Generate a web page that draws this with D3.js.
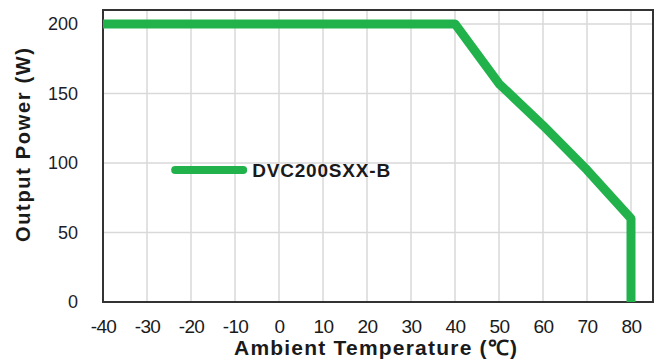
<!DOCTYPE html>
<html>
<head>
<meta charset="utf-8">
<script src="https://cdn.jsdelivr.net/npm/d3@7"></script>
<style>
  body { margin: 0; background: #fff; }
  svg { display: block; }
</style>
</head>
<body>
<div id="chart"></div>
<script>
// derating curve values
var seriesName = 'DVC200SXX-B'
var temps = [-40, 40, 50, 60, 70, 80, 80]
var power = [200, 200, 157, 127, 95, 60, 0]
var xTicks = [-40, -30, -20, -10, 0, 10, 20, 30, 40, 50, 60, 70, 80]
var yTicks = [0, 50, 100, 150, 200]

var svgWidth = 662
var svgHeight = 362

var margin = { top: 10, right: 9, bottom: 60, left: 103 }
var chartWidth = svgWidth - margin.left - margin.right
var chartHeight = svgHeight - margin.top - margin.bottom

var svg = d3.select('#chart')
  .append('svg')
  .attr('width', svgWidth)
  .attr('height', svgHeight)

var chartGroup = svg.append('g')
  .attr('transform', `translate(${margin.left}, ${margin.top})`)

var xScale = d3.scaleLinear().domain([-40, 85]).range([0, chartWidth])
var yScale = d3.scaleLinear().domain([0, 210]).range([chartHeight, 0])

// grid lines
chartGroup.append('g')
  .selectAll('line')
  .data(xTicks.filter(d => d > -40))
  .enter()
  .append('line')
  .attr('x1', d => xScale(d))
  .attr('x2', d => xScale(d))
  .attr('y1', 0)
  .attr('y2', chartHeight)
  .attr('stroke', '#d9d9d9')
  .attr('stroke-width', 1.5)

chartGroup.append('g')
  .selectAll('line')
  .data(yTicks.filter(d => d > 0))
  .enter()
  .append('line')
  .attr('x1', 0)
  .attr('x2', chartWidth)
  .attr('y1', d => yScale(d))
  .attr('y2', d => yScale(d))
  .attr('stroke', '#d9d9d9')
  .attr('stroke-width', 1.5)

// x axis labels (plain hyphen for negatives, like the original)
var bottomAxis = d3.axisBottom(xScale)
  .tickValues(xTicks)
  .tickFormat(d => String(d))
  .tickSize(0)
  .tickPadding(18)

var xAxis = chartGroup.append('g')
  .attr('transform', `translate(0, ${chartHeight})`)
  .call(bottomAxis)
xAxis.select('.domain').remove()
xAxis.selectAll('text')
  .attr('font-family', 'Liberation Sans, Arial, sans-serif')
  .attr('font-size', '19px')
  .attr('letter-spacing', '-0.6px')
  .attr('fill', '#1a1a1a')

// y axis labels
var leftAxis = d3.axisLeft(yScale)
  .tickValues(yTicks)
  .tickSize(0)
  .tickPadding(25)

var yAxis = chartGroup.append('g').call(leftAxis)
yAxis.select('.domain').remove()
yAxis.selectAll('text')
  .attr('font-family', 'Liberation Sans, Arial, sans-serif')
  .attr('font-size', '18px')
  .attr('fill', '#1c1c2c')

// plot frame
chartGroup.append('rect')
  .attr('x', 0)
  .attr('y', 0)
  .attr('width', chartWidth)
  .attr('height', chartHeight)
  .attr('fill', 'none')
  .attr('stroke', '#333')
  .attr('stroke-width', 2)

// the curve
var lineData = temps.map((t, i) => ({ t: t, p: power[i] }))
var line = d3.line()
  .x(d => xScale(d.t))
  .y(d => yScale(d.p))

chartGroup.append('path')
  .datum(lineData)
  .attr('d', line)
  .attr('fill', 'none')
  .attr('stroke', '#22b24c')
  .attr('stroke-width', 9)
  .attr('stroke-linejoin', 'round')

// legend
var legend = chartGroup.append('g')
  .attr('transform', `translate(${xScale(-23.6)}, ${yScale(95)})`)
legend.append('line')
  .attr('x1', 0)
  .attr('x2', 68)
  .attr('y1', 0)
  .attr('y2', 0)
  .attr('stroke', '#22b24c')
  .attr('stroke-width', 8)
  .attr('stroke-linecap', 'round')
legend.append('text')
  .attr('x', 77)
  .attr('y', 7)
  .attr('font-family', 'Liberation Sans, Arial, sans-serif')
  .attr('font-weight', 'bold')
  .attr('font-size', '19px')
  .attr('textLength', 138)
  .attr('fill', '#1a1a1a')
  .text(seriesName)

// axis titles
svg.append('text')
  .attr('x', 234)
  .attr('y', 355)
  .attr('font-family', 'Liberation Sans, Arial, sans-serif')
  .attr('font-weight', 'bold')
  .attr('font-size', '21px')
  .attr('textLength', 283)
  .attr('fill', '#1a1a1a')
  .text('Ambient Temperature (℃)')

svg.append('text')
  .attr('transform', 'translate(30, 145) rotate(-90)')
  .attr('text-anchor', 'middle')
  .attr('font-family', 'Liberation Sans, Arial, sans-serif')
  .attr('font-weight', 'bold')
  .attr('font-size', '20px')
  .attr('textLength', 194)
  .attr('fill', '#1a1a1a')
  .text('Output Power (W)')
</script>
</body>
</html>
